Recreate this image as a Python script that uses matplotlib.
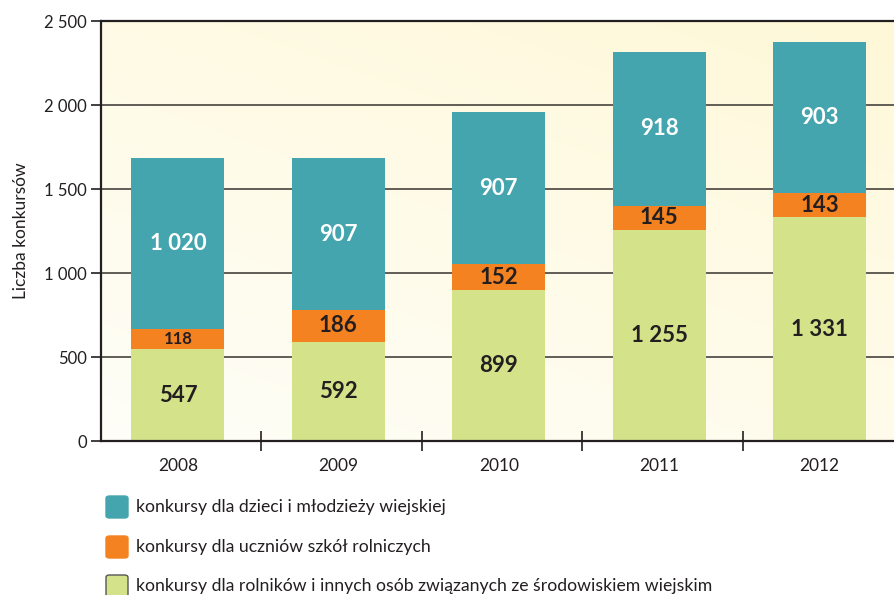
import numpy as np
import matplotlib
matplotlib.use("Agg")
import matplotlib.pyplot as plt
from matplotlib.patches import FancyBboxPatch
from matplotlib.colors import LinearSegmentedColormap

plt.rcParams['font.family'] = ['Lato', 'DejaVu Sans']

years = ["2008", "2009", "2010", "2011", "2012"]
rolnicy = [547, 592, 899, 1255, 1331]
uczniowie = [118, 186, 152, 145, 143]
dzieci = [1020, 907, 907, 918, 903]
series_names = [
    "konkursy dla dzieci i młodzieży wiejskiej",
    "konkursy dla uczniów szkół rolniczych",
    "konkursy dla rolników i innych osób związanych ze środowiskiem wiejskim",
]
y_ticks = [0, 500, 1000, 1500, 2000, 2500]
y_ticklabels = ["0", "500", "1 000", "1 500", "2 000", "2 500"]

c_teal = "#45A5AE"
c_orange = "#F58220"
c_green = "#D4E28A"

def fmt(v):
    return f"{v:,}".replace(",", " ")

fig = plt.figure(figsize=(8.95, 5.95), dpi=100)
ax = fig.add_axes([0.1128, 0.2588, 0.8872, 0.7059])

x = np.arange(len(years))
x0, x1 = -0.48, 4.47
ax.set_xlim(x0, x1)
ax.set_ylim(0, 2500)

# gradient background
grad = np.linspace(0, 1, 256)
gx, gy = np.meshgrid(grad, grad)
gval = (gx * 0.6 + gy * 0.9)
cmap = LinearSegmentedColormap.from_list("bg", ["#FFFEF8", "#FEF8D8"])
ax.imshow(gval, extent=(x0, x1, 0, 2500), origin="lower", aspect="auto",
          cmap=cmap, zorder=0)

for yv in y_ticks[1:-1]:
    ax.axhline(yv, color="#5f5d55", lw=1.4, zorder=1)

w = 0.58
ax.bar(x, rolnicy, w, color=c_green, zorder=2)
ax.bar(x, uczniowie, w, bottom=rolnicy, color=c_orange, zorder=2)
bottom3 = [a + b for a, b in zip(rolnicy, uczniowie)]
ax.bar(x, dzieci, w, bottom=bottom3, color=c_teal, zorder=2)

for i in range(len(years)):
    ax.text(x[i], rolnicy[i] / 2, fmt(rolnicy[i]), ha="center", va="center",
            fontsize=16, fontweight="bold", color="#231f20", zorder=3)
    fs = 12 if uczniowie[i] < 130 else 16
    ax.text(x[i], rolnicy[i] + uczniowie[i] / 2, fmt(uczniowie[i]), ha="center",
            va="center", fontsize=fs, fontweight="bold", color="#231f20", zorder=3)
    ax.text(x[i], bottom3[i] + dzieci[i] / 2, fmt(dzieci[i]), ha="center",
            va="center", fontsize=16, fontweight="bold", color="white", zorder=3)

ax.set_yticks(y_ticks)
ax.set_yticklabels(y_ticklabels)
ax.set_xticks(x)
ax.set_xticklabels(years)
ax.set_xticks(np.arange(0.5, 4.0, 1.0) + 0.02, minor=True)
ax.tick_params(axis="x", which="major", length=0, pad=12, labelsize=12.5, labelcolor="#231f20")
ax.tick_params(axis="x", which="minor", direction="inout", length=14, width=1.2, color="#231f20")
ax.tick_params(axis="y", which="major", direction="out", length=7, width=1.2,
               color="#231f20", labelsize=12, labelcolor="#231f20", pad=3)

for s in ["left", "bottom", "top"]:
    ax.spines[s].set_color("#231f20")
    ax.spines[s].set_linewidth(1.6)
    ax.spines[s].set_zorder(4)
ax.spines["right"].set_visible(False)

ax.set_ylabel("Liczba konkursów", fontsize=12.5, color="#231f20", labelpad=11)

# legend
colors = [c_teal, c_orange, c_green]
edges = [c_teal, c_orange, "#555555"]
ys = [507, 547, 586]
for name, col, ec, yy in zip(series_names, colors, edges, ys):
    yf = 1 - yy / 595
    h = 22 / 595
    wd = 22 / 895
    p = FancyBboxPatch((106 / 895, yf - h / 2), wd, h,
                       boxstyle="round,pad=0,rounding_size=0.004",
                       transform=fig.transFigure, facecolor=col, edgecolor=ec, lw=1.0)
    fig.add_artist(p)
    fig.text(136 / 895, yf, name, ha="left", va="center", fontsize=12.7, color="#231f20")

fig.savefig("out.png", dpi=100)
